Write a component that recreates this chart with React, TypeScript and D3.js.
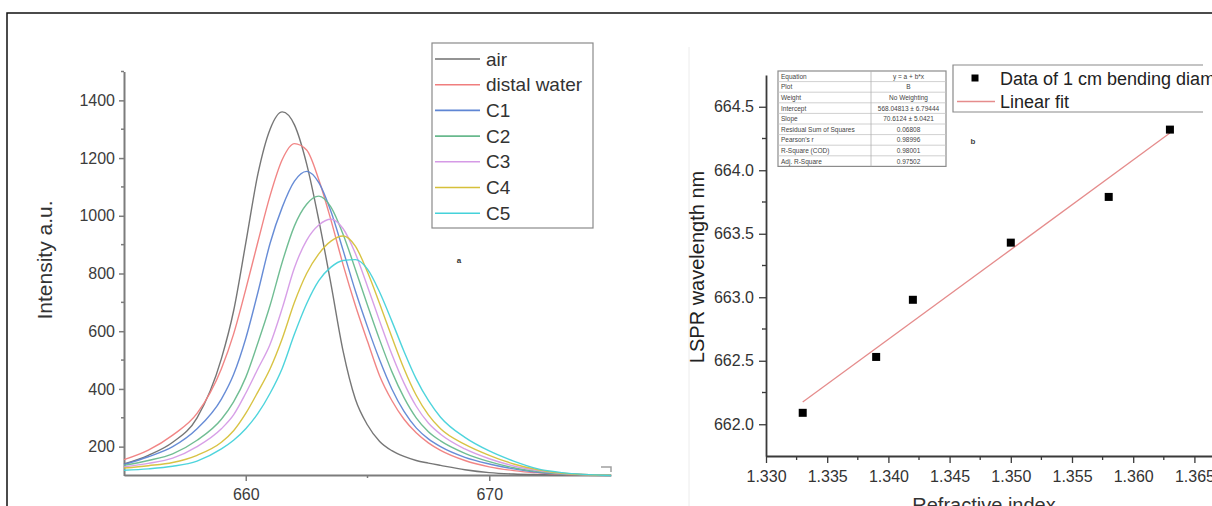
import React, { useRef, useEffect } from 'react';
import * as d3 from 'd3';

// (a) spectra: shared wavelength grid (nm) and intensity (a.u.) per sample
const wavelength = [655, 656, 657, 658, 659, 659.5, 660, 660.5, 661, 661.5, 662, 662.5, 663, 663.5, 664, 664.5, 665, 665.5, 666, 666.5, 667, 667.5, 668, 669, 670, 671, 672, 673, 675];
const air = [140, 170, 215, 300, 505, 670, 905, 1145, 1300, 1360, 1315, 1180, 985, 763, 530, 365, 275, 218, 186, 166, 152, 143, 135, 120, 110, 105, 103, 102, 100];
const distalWater = [155, 188, 240, 315, 470, 590, 745, 910, 1070, 1195, 1250, 1228, 1125, 985, 830, 690, 565, 445, 360, 295, 248, 213, 187, 152, 130, 117, 109, 104, 101];
const c1 = [138, 165, 200, 262, 365, 450, 575, 735, 905, 1030, 1120, 1154, 1115, 1015, 880, 740, 615, 500, 400, 322, 265, 227, 200, 163, 140, 123, 111, 105, 101];
const c2 = [135, 152, 175, 222, 295, 355, 440, 560, 690, 840, 965, 1040, 1068, 1030, 935, 815, 690, 570, 460, 370, 300, 252, 220, 177, 148, 127, 114, 106, 101];
const c3 = [130, 142, 160, 200, 262, 310, 385, 470, 555, 680, 820, 915, 968, 988, 955, 870, 755, 635, 520, 420, 340, 282, 243, 192, 158, 133, 117, 107, 101];
const c4 = [126, 134, 145, 170, 215, 255, 315, 390, 470, 575, 700, 800, 868, 912, 930, 895, 805, 695, 580, 470, 378, 310, 262, 208, 170, 140, 120, 108, 101];
const c5 = [118, 123, 132, 150, 192, 222, 262, 315, 385, 472, 590, 695, 775, 822, 845, 848, 815, 735, 635, 530, 435, 360, 302, 232, 185, 150, 123, 110, 100];
const seriesNames = ['air', 'distal water', 'C1', 'C2', 'C3', 'C4', 'C5'];
const seriesValues = [air, distalWater, c1, c2, c3, c4, c5];
const seriesColors = ['#6f6f6f', '#f07e7e', '#5f86d4', '#68b98d', '#d59ae6', '#d6c03a', '#44d2da'];
const spectraXTicks = [660, 670];
const spectraXMinor = [665];
const spectraYTicks = [200, 400, 600, 800, 1000, 1200, 1400];
const spectraYMinor = [300, 500, 700, 900, 1100, 1300, 1500];

// (b) LSPR wavelength vs refractive index, with linear fit
const refractiveIndex = [1.333, 1.339, 1.342, 1.350, 1.358, 1.363];
const lsprWavelength = [662.09, 662.53, 662.98, 663.43, 663.79, 664.32];
const fitIntercept = 568.04813;
const fitSlope = 70.6124;
const riXTicks = [1.330, 1.335, 1.340, 1.345, 1.350, 1.355, 1.360, 1.365];
const riXMinor = [1.3325, 1.3375, 1.3425, 1.3475, 1.3525, 1.3575, 1.3625];
const riYTicks = [662.0, 662.5, 663.0, 663.5, 664.0, 664.5];
const riYMinor = [662.25, 662.75, 663.25, 663.75, 664.25];
const fitRows = [
  ['Equation', 'y = a + b*x'],
  ['Plot', 'B'],
  ['Weight', 'No Weighting'],
  ['Intercept', '568.04813 ± 6.79444'],
  ['Slope', '70.6124 ± 5.0421'],
  ['Residual Sum of Squares', '0.06808'],
  ["Pearson's r", '0.98996'],
  ['R-Square (COD)', '0.98001'],
  ['Adj. R-Square', '0.97502'],
];

const FONT = 'Liberation Sans, Arial, sans-serif';

const App = () => {
  const svgRef = useRef<SVGSVGElement>(null);

  useEffect(() => {
    const svg = d3.select(svgRef.current);
    svg.selectAll('*').remove();

    // outer frame of the figure
    svg.append('path').attr('d', 'M7,506V13H1212').attr('fill', 'none').attr('stroke', '#111').attr('stroke-width', 1.5);
    // faint edge of the pasted second graph
    svg.append('line').attr('x1', 689).attr('x2', 689).attr('y1', 47).attr('y2', 506).attr('stroke', '#ececec');
    svg.append('path').attr('d', 'M601,467H611V472').attr('fill', 'none').attr('stroke', '#a0a0a0').attr('stroke-width', 1.5);

    // ---------- left: spectra ----------
    const x1 = d3.scaleLinear().domain([655, 675]).range([124, 611]);
    const y1 = d3.scaleLinear().domain([100, 1500]).range([475.5, 71.5]);
    const axisGrey = '#7c7c7c';

    const gx1 = svg.append('g').attr('transform', 'translate(0,475)')
      .call(d3.axisBottom(x1).tickValues(spectraXTicks).tickSize(6).tickSizeOuter(0).tickFormat(d3.format('d')));
    gx1.append('g').selectAll('line').data(spectraXMinor).join('line')
      .attr('x1', d => x1(d)).attr('x2', d => x1(d)).attr('y1', 0).attr('y2', 3).attr('stroke', axisGrey).attr('stroke-width', 1.5);

    const gy1 = svg.append('g').attr('transform', 'translate(124,0)')
      .call(d3.axisLeft(y1).tickValues(spectraYTicks).tickSize(5).tickPadding(4).tickSizeOuter(0).tickFormat(d3.format('d')));
    gy1.append('g').selectAll('line').data(spectraYMinor).join('line')
      .attr('y1', d => y1(d)).attr('y2', d => y1(d)).attr('x1', 0).attr('x2', -3).attr('stroke', axisGrey).attr('stroke-width', 1.5);

    [gx1, gy1].forEach(g => {
      g.select('.domain').attr('stroke', axisGrey).attr('stroke-width', 2);
      g.selectAll('.tick line').attr('stroke', axisGrey).attr('stroke-width', 1.5);
      g.selectAll('.tick text').attr('font-family', FONT).attr('font-size', 16).attr('fill', '#3c3c3c');
    });
    gx1.selectAll('.tick text').attr('y', 14);

    svg.append('text').attr('transform', 'translate(52,260) rotate(-90)').attr('text-anchor', 'middle')
      .attr('font-family', FONT).attr('font-size', 21).attr('fill', '#333').text('Intensity a.u.');

    const line1 = d3.line<number>().x((_, i) => x1(wavelength[i])).y(d => y1(d)).curve(d3.curveMonotoneX);
    svg.append('g').selectAll('path').data(seriesValues).join('path')
      .attr('d', d => line1(d)).attr('fill', 'none')
      .attr('stroke', (_, i) => seriesColors[i]).attr('stroke-width', 1.4).attr('stroke-opacity', 0.95);

    // legend (a)
    const lg1 = svg.append('g');
    lg1.append('rect').attr('x', 432).attr('y', 43).attr('width', 161).attr('height', 185)
      .attr('fill', '#fff').attr('stroke', '#8a8a8a').attr('stroke-width', 1.2);
    const items1 = lg1.selectAll('g.item').data(seriesNames).join('g').attr('class', 'item')
      .attr('transform', (_, i) => `translate(0,${59 + i * 25.7})`);
    items1.append('line').attr('x1', 435).attr('x2', 480).attr('stroke', (_, i) => seriesColors[i]).attr('stroke-width', 1.6);
    items1.append('text').attr('x', 486).attr('y', 6.5).attr('font-family', FONT).attr('font-size', 19)
      .attr('fill', '#333').text(d => d);

    svg.append('text').attr('x', 459).attr('y', 263).attr('text-anchor', 'middle')
      .attr('font-family', FONT).attr('font-size', 8).attr('font-weight', 'bold').attr('fill', '#333').text('a');

    // ---------- right: LSPR shift ----------
    const x2 = d3.scaleLinear().domain([1.330, 1.370]).range([766, 1255.6]);
    const y2 = d3.scaleLinear().domain([661.75, 664.75]).range([456, 75]);
    const axisDark = '#3a3a3a';

    const gx2 = svg.append('g').attr('transform', 'translate(0,456)')
      .call(d3.axisBottom(x2).tickValues(riXTicks).tickSize(7).tickSizeOuter(0).tickFormat(d3.format('.3f')));
    gx2.append('g').selectAll('line').data(riXMinor).join('line')
      .attr('x1', d => x2(d)).attr('x2', d => x2(d)).attr('y1', 0).attr('y2', 4).attr('stroke', axisDark).attr('stroke-width', 1.3);
    const gy2 = svg.append('g').attr('transform', 'translate(766,0)')
      .call(d3.axisLeft(y2).tickValues(riYTicks).tickSize(7).tickPadding(5).tickSizeOuter(0).tickFormat(d3.format('.1f')));
    gy2.append('g').selectAll('line').data(riYMinor).join('line')
      .attr('y1', d => y2(d)).attr('y2', d => y2(d)).attr('x1', 0).attr('x2', -4).attr('stroke', axisDark).attr('stroke-width', 1.3);
    [gx2, gy2].forEach(g => {
      g.select('.domain').attr('stroke', axisDark).attr('stroke-width', 1.8);
      g.selectAll('.tick line').attr('stroke', axisDark).attr('stroke-width', 1.3);
      g.selectAll('.tick text').attr('font-family', FONT).attr('font-size', 16).attr('fill', '#333');
    });
    gx2.selectAll('.tick text').attr('y', 15);

    svg.append('text').attr('transform', 'translate(704,267) rotate(-90)').attr('text-anchor', 'middle')
      .attr('font-family', FONT).attr('font-size', 20).attr('fill', '#222').text('LSPR wavelength nm');
    svg.append('text').attr('x', 984).attr('y', 512).attr('text-anchor', 'middle')
      .attr('font-family', FONT).attr('font-size', 20).attr('fill', '#333').text('Refractive index');

    const fitLine = d3.line<number>().x(d => x2(d)).y(d => y2(fitIntercept + fitSlope * d));
    svg.append('path').attr('d', fitLine([refractiveIndex[0], refractiveIndex[refractiveIndex.length - 1]]))
      .attr('fill', 'none').attr('stroke', '#e58c8c').attr('stroke-width', 1.3);

    svg.append('g').selectAll('rect').data(refractiveIndex).join('rect')
      .attr('x', d => x2(d) - 4).attr('y', (_, i) => y2(lsprWavelength[i]) - 4)
      .attr('width', 8).attr('height', 8).attr('fill', '#000');

    // fit statistics table
    const tb = svg.append('g').attr('font-family', FONT).attr('font-size', 6.5).attr('fill', '#444');
    const tX = 778, tY = 71, tW = 168, rowH = 10.6, split = 871;
    tb.append('rect').attr('x', tX).attr('y', tY).attr('width', tW).attr('height', rowH * fitRows.length)
      .attr('fill', '#fff').attr('stroke', '#8c8c8c').attr('stroke-width', 1.2);
    tb.selectAll('line.row').data(fitRows.slice(1)).join('line').attr('class', 'row')
      .attr('x1', tX).attr('x2', tX + tW).attr('y1', (_, i) => tY + (i + 1) * rowH).attr('y2', (_, i) => tY + (i + 1) * rowH)
      .attr('stroke', '#c4c4c4').attr('stroke-width', 0.8);
    tb.append('line').attr('x1', split).attr('x2', split).attr('y1', tY).attr('y2', tY + rowH * fitRows.length)
      .attr('stroke', '#b0b0b0').attr('stroke-width', 0.8);
    tb.selectAll('text.k').data(fitRows).join('text').attr('class', 'k')
      .attr('x', tX + 3).attr('y', (_, i) => tY + i * rowH + 7.8).text(d => d[0]);
    tb.selectAll('text.v').data(fitRows).join('text').attr('class', 'v').attr('text-anchor', 'middle')
      .attr('x', (split + tX + tW) / 2).attr('y', (_, i) => tY + i * rowH + 7.8).text(d => d[1]);

    // legend (b)
    const lg2 = svg.append('g');
    lg2.append('path').attr('d', 'M1203,65H953V112H1203').attr('fill', '#fff').attr('stroke', '#8a8a8a').attr('stroke-width', 1.2);
    lg2.append('rect').attr('x', 971.5).attr('y', 74.5).attr('width', 7).attr('height', 7).attr('fill', '#000');
    lg2.append('text').attr('x', 1000).attr('y', 84.5).attr('font-family', FONT).attr('font-size', 18).attr('fill', '#222')
      .text('Data of 1 cm bending diameter');
    lg2.append('line').attr('x1', 957).attr('x2', 995).attr('y1', 101.5).attr('y2', 101.5).attr('stroke', '#e58c8c').attr('stroke-width', 1.3);
    lg2.append('text').attr('x', 1000).attr('y', 108).attr('font-family', FONT).attr('font-size', 18).attr('fill', '#222')
      .text('Linear fit');

    svg.append('text').attr('x', 973).attr('y', 144).attr('text-anchor', 'middle')
      .attr('font-family', FONT).attr('font-size', 8).attr('font-weight', 'bold').attr('fill', '#444').text('b');
  }, []);

  return (
    <svg ref={svgRef} width={1212} height={506}
      style={{ position: 'absolute', left: 0, top: 0, background: '#fff', display: 'block' }} />
  );
};

export default App;
